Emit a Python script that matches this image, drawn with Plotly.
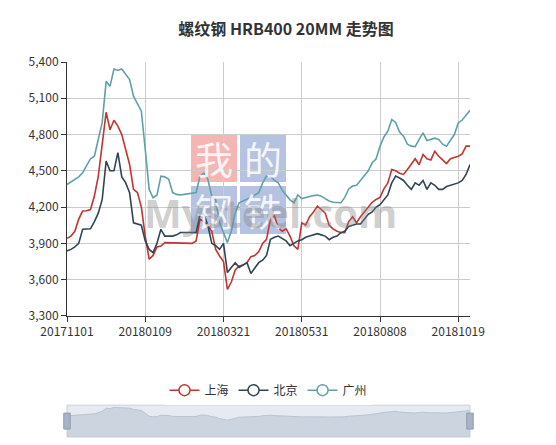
import plotly.graph_objects as go

tick_idx = [0, 20, 40, 60, 80, 100]
tick_labels = ["20171101", "20180109", "20180321", "20180531", "20180808", "20181019"]

shanghai = [3941, 3960, 4000, 4100, 4167, 4170, 4180, 4291, 4456, 4700,
            4984, 4840, 4918, 4870, 4800, 4676, 4552, 4346, 4320, 4200,
            3960, 3768, 3800, 3870, 3878, 3906, 3906, 3900, 3900, 3900,
            3900, 3900, 3900, 3920, 4100, 4080, 4050, 4000, 3850, 3795,
            3750, 3520, 3580, 3680, 3713, 3720, 3740, 3790, 3800, 3830,
            3900, 3933, 4100, 4126, 4030, 4000, 4020, 3960, 3880, 3850,
            4070, 4050, 4120, 4160, 4208, 4180, 4150, 4050, 4020, 4000,
            3990, 3988, 4080, 4120, 4070, 4120, 4160, 4200, 4240, 4263,
            4280, 4350, 4400, 4510, 4500, 4480, 4470, 4510, 4560, 4600,
            4550, 4635, 4600, 4590, 4662, 4620, 4590, 4560, 4600, 4610,
            4621, 4640, 4704, 4704]
beijing = [3837, 3850, 3870, 3900, 4016, 4020, 4020, 4080, 4150, 4263,
           4580, 4500, 4500, 4650, 4450, 4400, 4318, 4070, 4060, 4050,
           3920, 3850, 3823, 3900, 4016, 3960, 3960, 3960, 3970, 3990,
           3990, 3990, 3990, 3990, 4140, 4140, 4050, 3900, 3880, 3850,
           3900, 3658, 3700, 3740, 3700, 3720, 3740, 3650, 3700, 3740,
           3760, 3800, 3933, 3950, 3960, 3940, 3920, 3880, 3900, 3920,
           3930, 3950, 3960, 3970, 3980, 3970, 3960, 3930, 3950, 3960,
           3988, 4000, 4040, 4050, 4060, 4060, 4100, 4140, 4160, 4200,
           4220, 4263, 4300, 4400, 4456, 4440, 4420, 4380, 4346, 4400,
           4380, 4420, 4346, 4400, 4380, 4346, 4346, 4370, 4380, 4390,
           4400, 4420, 4470, 4552]
guangzhou = [4387, 4410, 4430, 4450, 4484, 4540, 4600, 4620, 4770, 4900,
             5240, 5200, 5342, 5330, 5342, 5300, 5254, 5117, 5050, 4993,
             4676, 4346, 4277, 4300, 4456, 4450, 4430, 4320, 4305, 4300,
             4305, 4310, 4310, 4320, 4456, 4480, 4430, 4290, 4260, 4070,
             3988, 3906, 4000, 4150, 4236, 4250, 4260, 4280, 4300, 4318,
             4400, 4456, 4456, 4420, 4400, 4340, 4300, 4260, 4236, 4300,
             4270, 4280, 4290, 4295, 4300, 4290, 4270, 4250, 4240, 4236,
             4236, 4280, 4350, 4374, 4380, 4420, 4460, 4500, 4566, 4600,
             4704, 4780, 4828, 4924, 4900, 4820, 4786, 4720, 4704, 4700,
             4760, 4814, 4750, 4760, 4770, 4760, 4720, 4704, 4750, 4800,
             4896, 4920, 4960, 5000]

names = ["上海", "北京", "广州"]
colors = ["#c23531", "#2f4554", "#61a0a8"]
x = list(range(len(shanghai)))

fig = go.Figure()
for name, vals, c in zip(names, [shanghai, beijing, guangzhou], colors):
    fig.add_trace(go.Scatter(x=x, y=vals, mode="lines", line=dict(color=c, width=1.6),
                             showlegend=False, hoverinfo="skip"))
    fig.add_trace(go.Scatter(x=[None], y=[None], mode="lines+markers", name=name,
                             line=dict(color=c, width=1.5),
                             marker=dict(symbol="circle", size=11, color="white",
                                         line=dict(color=c, width=1.5))))

# mini chart inside the zoom slider
fig.add_trace(go.Scatter(x=x, y=guangzhou, mode="lines", fill="tozeroy",
                         line=dict(color="#b9c4d3", width=1), fillcolor="rgba(185,196,211,0.6)",
                         xaxis="x2", yaxis="y2", showlegend=False, hoverinfo="skip"))

# watermark (positions in reference pixels, plot area 67..470 x 62..316)
for txt, cx, cy, col in [("我", 214, 158, "rgba(235,90,90,0.45)"), ("的", 263, 158, "rgba(90,120,190,0.45)"),
                         ("钢", 214, 210, "rgba(90,120,190,0.45)"), ("铁", 263, 210, "rgba(90,120,190,0.45)")]:
    x0, y0 = (cx - 23 - 67) / 403, (316 - (cy - 24)) / 254
    x1, y1 = (cx + 23 - 67) / 403, (316 - (cy + 24)) / 254
    fig.add_shape(type="rect", xref="x domain", yref="y domain", x0=x0, x1=x1, y0=y1, y1=y0,
                  fillcolor=col, line_width=0, layer="below")
    fig.add_annotation(text=txt, xref="x domain", yref="y domain", x=(cx - 67) / 403, y=(316 - cy) / 254,
                       showarrow=False, font=dict(size=38, color="rgba(255,255,255,0.85)", family="Noto Sans CJK SC"))
fig.add_annotation(text="<b>Mysteel.com</b>", xref="x domain", yref="y domain", x=(270 - 67) / 403,
                   y=(316 - 242) / 254, showarrow=False,
                   font=dict(size=40, color="rgba(130,130,130,0.4)", family="Open Sans"))

# slider handles
for hx in [0, 1]:
    fig.add_shape(type="rect", xref="x2 domain", yref="y2 domain", x0=hx - 0.008, x1=hx + 0.008,
                  y0=0.25, y1=0.75, fillcolor="#a8b4c5", line=dict(color="#8e9bb0", width=1))
fig.add_shape(type="rect", xref="x2 domain", yref="y2 domain", x0=0, x1=1, y0=0, y1=1,
              fillcolor="rgba(200,210,225,0.45)", line=dict(color="#c8d0dc", width=1), layer="below")

fig.update_layout(
    width=556, height=445,
    margin=dict(l=59, r=94, t=54, b=16, autoexpand=False),
    paper_bgcolor="white", plot_bgcolor="white",
    title=dict(text="<b>螺纹钢 HRB400 20MM 走势图</b>", x=0.5, xanchor="center", y=0.965,
               font=dict(size=16, color="#333", family="Noto Sans CJK SC")),
    font=dict(family="Noto Sans CJK SC", size=12, color="#333"),
    legend=dict(orientation="h", x=0.5, xanchor="center", y=0.125, yanchor="middle",
                font=dict(size=12, color="#333"), itemwidth=30),
    xaxis=dict(range=[0, len(x) - 1], tickvals=tick_idx, ticktext=tick_labels, automargin=False,
               showgrid=True, gridcolor="#ccc", showline=True, linecolor="#333",
               ticks="outside", tickcolor="#333", ticklen=5, zeroline=False,
               anchor="y"),
    yaxis=dict(range=[3300, 5400], dtick=300, tickformat=",", showgrid=True, gridcolor="#ccc",
               showline=True, linecolor="#333", ticks="outside", tickcolor="#333", ticklen=5,
               domain=[0.323, 1], zeroline=False, automargin=False),
    xaxis2=dict(range=[0, len(x) - 1], visible=False, anchor="y2", domain=[0, 1]),
    yaxis2=dict(range=[2000, 5600], visible=False, domain=[0, 0.085], anchor="x2"),
    hovermode=False,
)

fig.write_html("out.html")
